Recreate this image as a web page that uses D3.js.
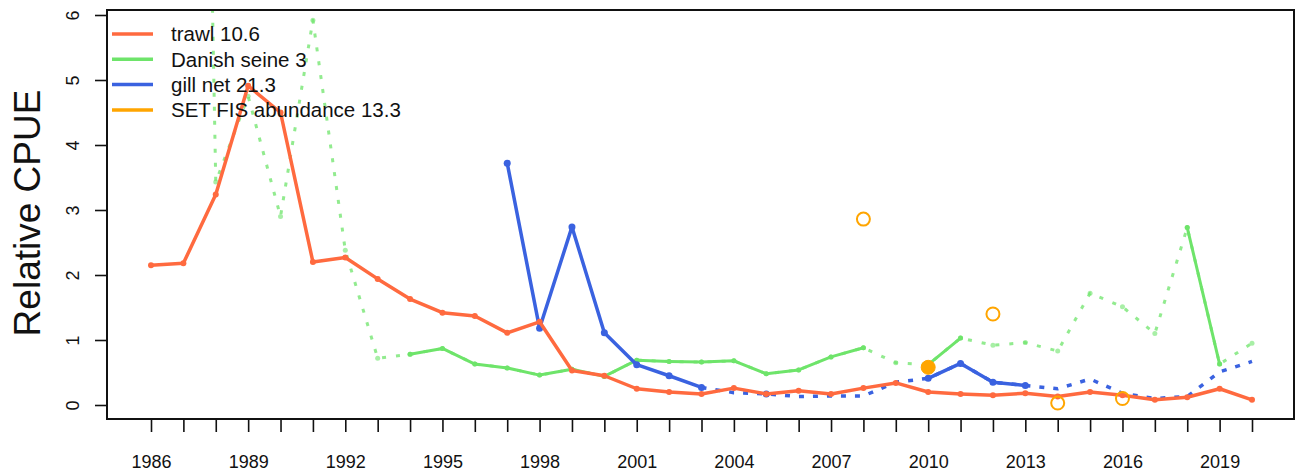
<!DOCTYPE html>
<html>
<head>
<meta charset="utf-8">
<script src="https://cdn.jsdelivr.net/npm/d3@7"></script>
<style>
  html, body { margin: 0; padding: 0; background: #fff; }
  svg { display: block; font-family: "Liberation Sans", Arial, sans-serif; }
</style>
</head>
<body>
<svg id="chart" width="1303" height="475"></svg>
<script>
// ---- data ----
const years = [1986,1987,1988,1989,1990,1991,1992,1993,1994,1995,1996,1997,1998,1999,2000,2001,2002,2003,2004,2005,2006,2007,2008,2009,2010,2011,2012,2013,2014,2015,2016,2017,2018,2019,2020];
const trawl = [2.15,2.18,3.24,4.91,4.5,2.2,2.27,1.94,1.63,1.42,1.37,1.11,1.28,0.53,0.45,0.25,0.2,0.17,0.26,0.17,0.22,0.17,0.26,0.34,0.2,0.17,0.15,0.18,0.13,0.2,0.15,0.08,0.12,0.25,0.08];
const seineSolid = [null,null,null,null,null,null,null,null,0.78,0.87,0.63,0.57,0.46,0.55,0.44,0.69,0.67,0.66,0.68,0.48,0.54,0.74,0.88,null,0.62,1.03,null,null,null,null,null,null,2.73,0.63,null];
const seineDotted = [null,30,3.43,4.75,2.9,5.92,2.38,0.72,0.78,0.87,0.63,0.57,0.46,0.55,0.44,0.69,0.67,0.66,0.68,0.48,0.54,0.74,0.88,0.65,0.62,1.03,0.92,0.96,0.83,1.72,1.51,1.1,2.73,0.63,0.95];
const gillSolid = [null,null,null,null,null,null,null,null,null,null,null,3.72,1.18,2.74,1.11,0.62,0.45,0.27,null,0.17,null,null,null,null,0.41,0.64,0.35,0.3,null,null,null,null,null,null,null];
const gillDotted = [null,null,null,null,null,null,null,null,null,null,null,null,null,null,null,null,null,0.27,0.19,0.17,0.13,0.14,0.14,0.35,0.41,0.64,0.35,0.3,0.25,0.4,0.18,0.1,0.13,0.51,0.67];
const setYears = [2008,2010,2012,2014,2016];
const setValues = [2.86,0.58,1.4,0.03,0.1];
const setFilled = [false,true,false,false,false];
const legendLabels = ["trawl 10.6","Danish seine 3","gill net 21.3","SET FIS abundance 13.3"];
const legendColors = ["#ff6a3f","#6ee46a","#3a62e0","#ffa500"];
const yTicks = [0,1,2,3,4,5,6];
const xTickLabels = [1986,1989,1992,1995,1998,2001,2004,2007,2010,2013,2016,2019];

// ---- layout ----
const box = {left: 107, top: 10, right: 1294, bottom: 419};
const svg = d3.select("#chart");
const x = d3.scaleLinear().domain([1986, 2020]).range([151, 1252]);
const y = d3.scaleLinear().domain([0, 6]).range([405, 15]);

const cTrawl = legendColors[0], cSeine = legendColors[1], cGill = legendColors[2], cSet = legendColors[3];

svg.append("defs").append("clipPath").attr("id","clip")
  .append("rect").attr("x", box.left).attr("y", box.top)
  .attr("width", box.right - box.left).attr("height", box.bottom - box.top);

const plot = svg.append("g").attr("clip-path","url(#clip)");

function series(vals) { return years.map((yr,i) => ({yr, v: vals[i]})); }
const line = d3.line().defined(d => d.v != null).x(d => x(d.yr)).y(d => y(d.v));

function drawLine(vals, color, width, dash, opacity) {
  const p = plot.append("path").datum(series(vals))
    .attr("fill","none").attr("stroke",color).attr("stroke-width",width)
    .attr("stroke-linejoin","round").attr("opacity", opacity || 1)
    .attr("d", line);
  if (dash) p.attr("stroke-dasharray", dash);
}
function drawDots(vals, color, r, opacity) {
  plot.append("g").selectAll("circle")
    .data(series(vals).filter(d => d.v != null))
    .join("circle").attr("cx", d => x(d.yr)).attr("cy", d => y(d.v))
    .attr("r", r).attr("fill", color).attr("opacity", opacity || 1);
}

// dotted (underlying) series
drawLine(seineDotted, cSeine, 3, "4,10", 0.75);
drawDots(seineDotted, cSeine, 2.5, 0.6);
drawLine(gillDotted, cGill, 3.5, "5,9");
// solid series
drawLine(seineSolid, cSeine, 3);
drawDots(seineSolid, cSeine, 2.5);
drawLine(gillSolid, cGill, 3.5);
drawDots(gillSolid, cGill, 3.5);
drawLine(trawl, cTrawl, 3.5);
drawDots(trawl, cTrawl, 3);

// SET FIS points
plot.append("g").selectAll("circle")
  .data(setYears.map((yr,i) => ({yr, v: setValues[i], f: setFilled[i]})))
  .join("circle")
  .attr("cx", d => x(d.yr)).attr("cy", d => y(d.v))
  .attr("r", d => d.f ? 7 : 6.5)
  .attr("fill", d => d.f ? cSet : "none")
  .attr("stroke", cSet).attr("stroke-width", d => d.f ? 1 : 2);

// plot box
svg.append("rect").attr("x", box.left).attr("y", box.top)
  .attr("width", box.right - box.left).attr("height", box.bottom - box.top)
  .attr("fill","none").attr("stroke","#111").attr("stroke-width",2);

// y axis
const yAxis = svg.append("g").attr("transform", `translate(${box.left},0)`)
  .call(d3.axisLeft(y).tickValues(yTicks).tickSize(12).tickFormat(d3.format("d")));
yAxis.select(".domain").remove();
yAxis.selectAll(".tick line").attr("stroke","#111").attr("stroke-width",1.6);
yAxis.selectAll(".tick text")
  .attr("transform","rotate(-90)")
  .attr("x", 0).attr("y", -34).attr("dy","0.36em")
  .attr("text-anchor","middle")
  .attr("font-size", 18).attr("fill","#111")
  .attr("font-family", "'Liberation Sans', Arial, sans-serif");

// x axis
const xAxis = svg.append("g").attr("transform", `translate(0,${box.bottom})`)
  .call(d3.axisBottom(x).tickValues(years).tickSize(13).tickPadding(23)
    .tickFormat(d => xTickLabels.includes(d) ? String(d) : ""));
xAxis.select(".domain").remove();
xAxis.selectAll(".tick line").attr("stroke","#111").attr("stroke-width",1.6);
xAxis.selectAll(".tick text")
  .attr("font-size", 18).attr("fill","#111")
  .attr("font-family", "'Liberation Sans', Arial, sans-serif");

// y label
svg.append("text")
  .attr("transform", "translate(40,213) rotate(-90)")
  .attr("text-anchor","middle")
  .attr("font-size", 37).attr("fill","#111")
  .text("Relative CPUE");

// legend
const leg = svg.append("g");
legendLabels.forEach((lab, i) => {
  const yy = 34 + i * 25.3;
  leg.append("line").attr("x1",112).attr("x2",153).attr("y1",yy).attr("y2",yy)
    .attr("stroke", legendColors[i]).attr("stroke-width",3.5);
  leg.append("text").attr("x",171).attr("y",yy).attr("dy","0.36em")
    .attr("font-size",20.5).attr("fill","#111").text(lab);
});
</script>
</body>
</html>
